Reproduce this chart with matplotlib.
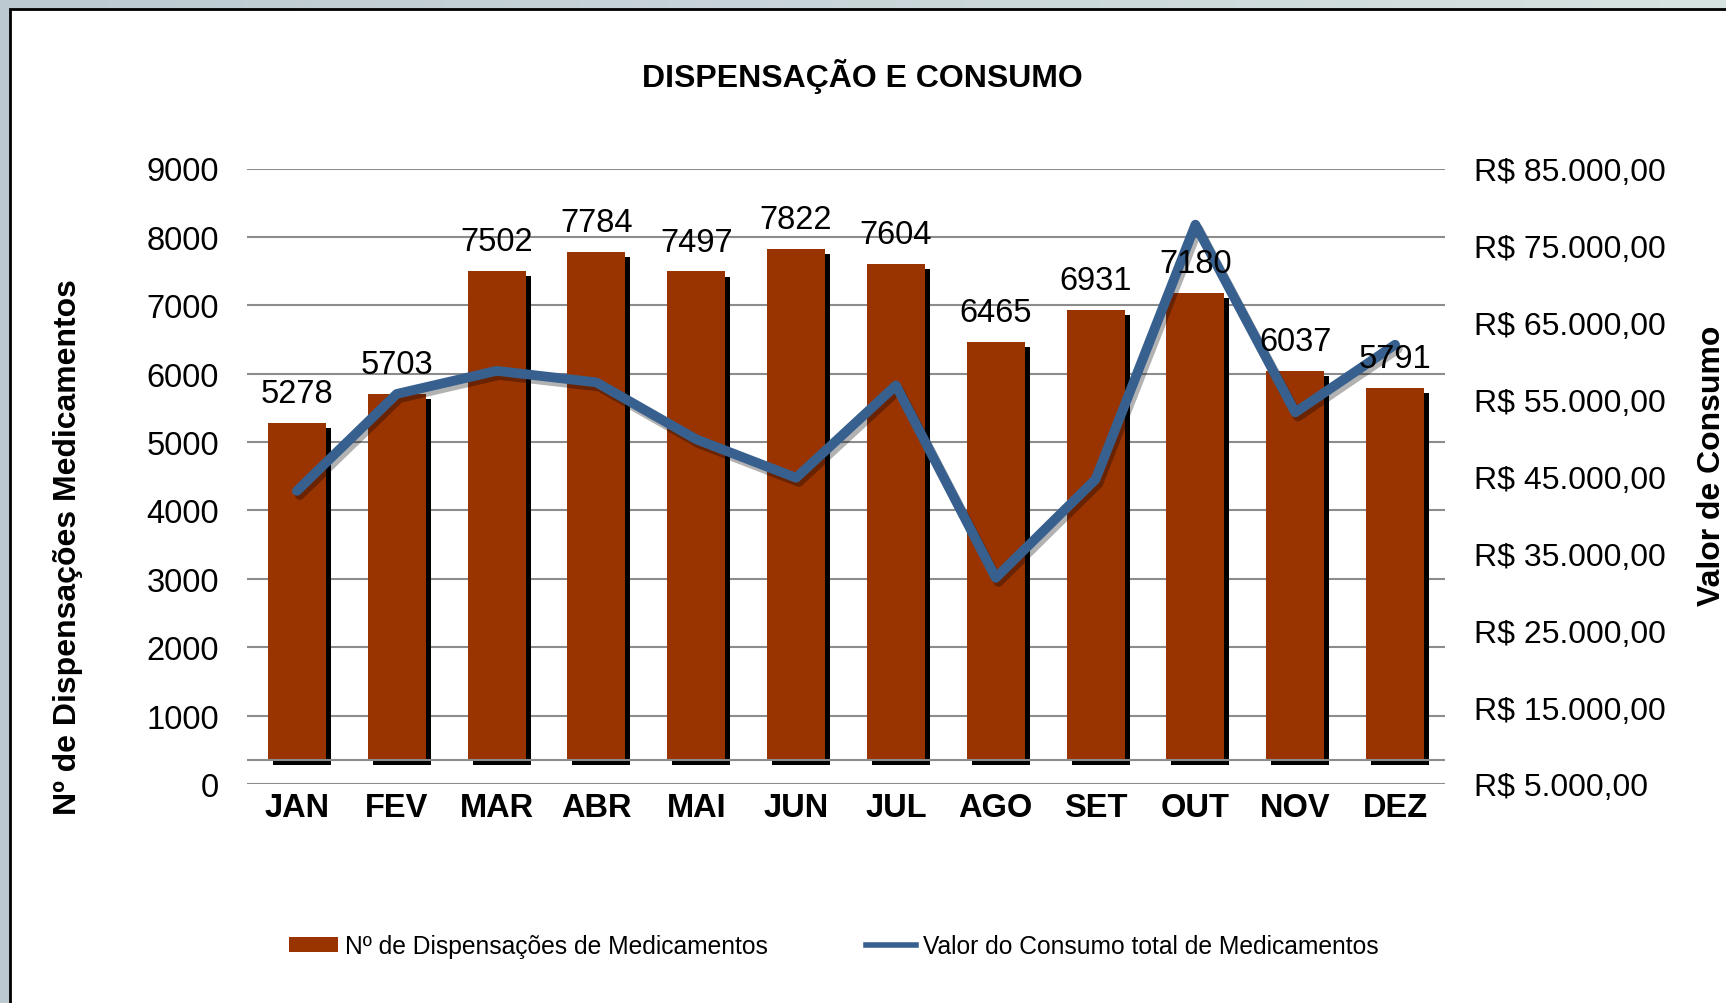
import numpy as np
import matplotlib
matplotlib.use('Agg')
import matplotlib.pyplot as plt
from matplotlib import patheffects as pe
from matplotlib.patches import Rectangle, Patch
from matplotlib.lines import Line2D

plt.rcParams['font.family'] = ['Liberation Sans', 'DejaVu Sans']

# Data
months = ['JAN', 'FEV', 'MAR', 'ABR', 'MAI', 'JUN', 'JUL', 'AGO', 'SET', 'OUT', 'NOV', 'DEZ']
dispensacoes = [5278, 5703, 7502, 7784, 7497, 7822, 7604, 6465, 6931, 7180, 6037, 5791]
consumo = [43100, 55700, 58700, 57200, 49800, 44800, 56800, 31800, 44600, 77700, 53300, 62100]

left_ticks = list(range(0, 9001, 1000))
right_ticks = list(range(5000, 85001, 10000))
right_labels = ['R$ ' + f'{v:,.2f}'.replace(',', 'X').replace('.', ',').replace('X', '.') for v in right_ticks]

W, H = 1726, 1004
fig = plt.figure(figsize=(W / 100, H / 100), dpi=100)
fig.patch.set_facecolor('#c3cfd5')

# soft background gradient behind the white chart frame
bg = fig.add_axes([0, 0, 1, 1], zorder=-2)
grad = np.linspace(0, 1, 256).reshape(1, -1)
c0 = np.array([0.74, 0.79, 0.82])
c1 = np.array([0.84, 0.89, 0.88])
img = c0 + (c1 - c0) * grad[..., None]
bg.imshow(img, aspect='auto', extent=[0, 1, 0, 1])
bg.axis('off')

frame = Rectangle((10 / W, -0.1), 1.2, 1 - 10 / H + 0.1, transform=fig.transFigure,
                  facecolor='white', edgecolor='black', lw=2, zorder=-1)
fig.patches.append(frame)

ax = fig.add_axes([247 / W, 1 - 785 / H, 1198 / W, 615.5 / H])
x = np.arange(len(months))

# 3D-style floor of the original Excel chart
floor = 350
bars = ax.bar(x, np.array(dispensacoes) - floor, bottom=floor, width=0.58,
              color='#993300', zorder=2)
for b in bars:
    b.set_path_effects([pe.SimplePatchShadow(offset=(3.6, -3.8), shadow_rgbFace='black', alpha=1.0),
                        pe.Normal()])

ax.set_xlim(-0.5, len(months) - 0.5)
ax.set_ylim(0, 9000)
ax.set_yticks(left_ticks)
ax.grid(axis='y', color='#8c8c8c', lw=1.5)
ax.set_axisbelow(True)
ax.axhline(floor, color='#8c8c8c', lw=1.5, zorder=2.5)
ax.set_xticks(x, months, fontsize=23.5, fontweight='bold')
ax.tick_params(axis='x', length=0, pad=6)
ax.tick_params(axis='y', length=0, pad=20, labelsize=23.5)
for s in ax.spines.values():
    s.set_visible(False)

ax2 = ax.twinx()
ax2.set_ylim(5000, 85000)
ax2.set_yticks(right_ticks, right_labels)
ax2.tick_params(axis='y', length=0, pad=21, labelsize=23)
for s in ax2.spines.values():
    s.set_visible(False)

ax2.plot(x, consumo, color='#37608f', lw=7, solid_joinstyle='round', solid_capstyle='round',
         path_effects=[pe.SimpleLineShadow(offset=(2, -3), shadow_color='black', alpha=0.3),
                       pe.Normal()])

# value labels above the bars (drawn on top of the line)
for i, v in enumerate(dispensacoes):
    ax2.annotate(str(v), xy=(i, v), xycoords=ax.transData, xytext=(0, 21),
                 textcoords='offset points', ha='center', va='center', fontsize=23.5)

fig.text(862 / W, 1 - 76 / H, 'DISPENSAÇÃO E CONSUMO', fontsize=23, fontweight='bold',
         ha='center', va='center')
fig.text(68 / W, 1 - 547 / H, 'Nº de Dispensações Medicamentos', rotation=90, fontsize=23,
         fontweight='bold', ha='center', va='center')
fig.text(1697 / W, 1 - 466 / H, 'Valor de Consumo', rotation=90, fontsize=23,
         fontweight='bold', ha='left', va='center')

handles = [Patch(facecolor='#993300'), Line2D([], [], color='#37608f', lw=4)]
labels = ['Nº de Dispensações de Medicamentos', 'Valor do Consumo total de Medicamentos']
fig.legend(handles, labels, loc='center', bbox_to_anchor=(0.483, 1 - 947 / H), ncol=2,
           frameon=False, fontsize=17.7, handlelength=2.0, handleheight=0.6,
           handletextpad=0.3, columnspacing=4.0)

fig.savefig('out.png', dpi=100)
